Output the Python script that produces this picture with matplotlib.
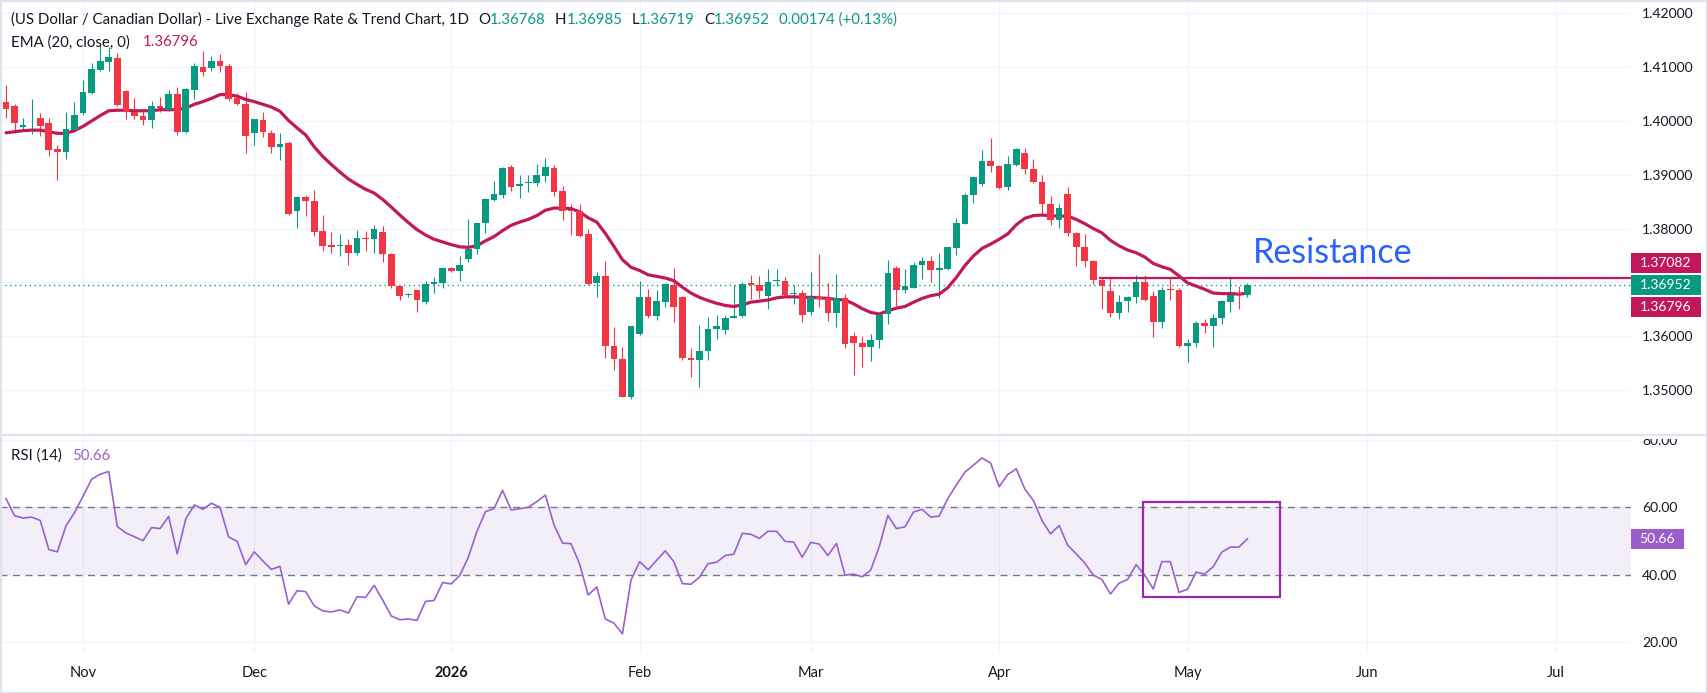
import numpy as np
import pandas as pd
import matplotlib
matplotlib.use("Agg")
import matplotlib.pyplot as plt
from matplotlib.patches import Rectangle
from matplotlib.lines import Line2D
from matplotlib.transforms import IdentityTransform

# USD/CAD daily candles, 21 Oct 2025 -> 12 May 2026
opens = [1.4036, 1.4027, 1.3988, 1.3996, 1.4006, 1.3997, 1.3947, 1.3942, 1.3984, 1.4014,
         1.4052, 1.4094, 1.4109, 1.4118, 1.4055, 1.4017, 1.4010, 1.4001, 1.4028, 1.4021,
         1.4051, 1.3979, 1.4058, 1.4101, 1.4098, 1.4112, 1.4103, 1.4042, 1.4032, 1.3977,
         1.4001, 1.3978, 1.3951, 1.3959, 1.3832, 1.3858, 1.3852, 1.3796, 1.3770, 1.3768,
         1.3770, 1.3754, 1.3783, 1.3780, 1.3794, 1.3753, 1.3693, 1.3676, 1.3685, 1.3663,
         1.3696, 1.3698, 1.3726, 1.3721, 1.3743, 1.3761, 1.3810, 1.3853, 1.3862, 1.3915,
         1.3880, 1.3884, 1.3884, 1.3897, 1.3912, 1.3869, 1.3834, 1.3832, 1.3789, 1.3698,
         1.3712, 1.3581, 1.3558, 1.3487, 1.3603, 1.3673, 1.3637, 1.3664, 1.3695, 1.3673,
         1.3560, 1.3555, 1.3572, 1.3613, 1.3611, 1.3634, 1.3637, 1.3699, 1.3695, 1.3674,
         1.3703, 1.3703, 1.3679, 1.3680, 1.3644, 1.3673, 1.3670, 1.3642, 1.3670, 1.3601,
         1.3588, 1.3579, 1.3592, 1.3641, 1.3727, 1.3686, 1.3690, 1.3732, 1.3739, 1.3723,
         1.3725, 1.3763, 1.3809, 1.3862, 1.3882, 1.3925, 1.3916, 1.3877, 1.3918, 1.3941,
         1.3910, 1.3887, 1.3846, 1.3815, 1.3865, 1.3792, 1.3766, 1.3740, 1.3705, 1.3683,
         1.3642, 1.3665, 1.3672, 1.3701, 1.3675, 1.3626, 1.3687, 1.3685, 1.3581, 1.3587,
         1.3624, 1.3618, 1.3633, 1.3663, 1.3680, 1.36768]
highs = [1.4066, 1.4032, 1.4006, 1.4040, 1.4014, 1.4006, 1.3956, 1.4016, 1.4036, 1.4077,
         1.4107, 1.4142, 1.4137, 1.4127, 1.4058, 1.4042, 1.4023, 1.4038, 1.4045, 1.4058,
         1.4064, 1.4061, 1.4108, 1.4131, 1.4120, 1.4125, 1.4106, 1.4052, 1.4054, 1.4003,
         1.4016, 1.3984, 1.3978, 1.3962, 1.3860, 1.3862, 1.3872, 1.3825, 1.3794, 1.3789,
         1.3781, 1.3798, 1.3796, 1.3806, 1.3805, 1.3754, 1.3694, 1.3680, 1.3686, 1.3702,
         1.3709, 1.3729, 1.3729, 1.3748, 1.3817, 1.3812, 1.3857, 1.3889, 1.3914, 1.3919,
         1.3899, 1.3899, 1.3920, 1.3931, 1.3919, 1.3880, 1.3845, 1.3845, 1.3800, 1.3720,
         1.3740, 1.3616, 1.3579, 1.3619, 1.3703, 1.3687, 1.3685, 1.3698, 1.3726, 1.3675,
         1.3577, 1.3620, 1.3636, 1.3639, 1.3640, 1.3695, 1.3700, 1.3714, 1.3711, 1.3725,
         1.3725, 1.3709, 1.3695, 1.3686, 1.3720, 1.3752, 1.3699, 1.3716, 1.3678, 1.3608,
         1.3601, 1.3603, 1.3641, 1.3742, 1.3730, 1.3724, 1.3738, 1.3747, 1.3748, 1.3755,
         1.3766, 1.3820, 1.3866, 1.3898, 1.3946, 1.3968, 1.3919, 1.3934, 1.3950, 1.3949,
         1.3930, 1.3900, 1.3861, 1.3845, 1.3878, 1.3793, 1.3789, 1.3741, 1.3709, 1.3709,
         1.3677, 1.3675, 1.3714, 1.3714, 1.3683, 1.3692, 1.3709, 1.3690, 1.3595, 1.3628,
         1.3631, 1.3641, 1.3667, 1.3709, 1.3693, 1.36985]
lows = [1.4006, 1.3977, 1.3981, 1.3976, 1.3972, 1.3934, 1.3890, 1.3930, 1.3979, 1.4011,
        1.4051, 1.4093, 1.4093, 1.4028, 1.4003, 1.4003, 1.3992, 1.3987, 1.4016, 1.4018,
        1.3974, 1.3978, 1.4040, 1.4083, 1.4093, 1.4091, 1.4037, 1.4029, 1.3940, 1.3956,
        1.3970, 1.3940, 1.3928, 1.3826, 1.3801, 1.3824, 1.3786, 1.3759, 1.3754, 1.3748,
        1.3732, 1.3750, 1.3758, 1.3755, 1.3737, 1.3689, 1.3667, 1.3672, 1.3644, 1.3659,
        1.3680, 1.3689, 1.3720, 1.3702, 1.3737, 1.3752, 1.3792, 1.3852, 1.3856, 1.3869,
        1.3856, 1.3867, 1.3879, 1.3886, 1.3860, 1.3815, 1.3788, 1.3784, 1.3695, 1.3672,
        1.3559, 1.3536, 1.3486, 1.3483, 1.3602, 1.3633, 1.3629, 1.3654, 1.3626, 1.3555,
        1.3523, 1.3505, 1.3556, 1.3595, 1.3603, 1.3633, 1.3635, 1.3669, 1.3670, 1.3650,
        1.3694, 1.3674, 1.3659, 1.3626, 1.3639, 1.3654, 1.3628, 1.3616, 1.3577, 1.3527,
        1.3542, 1.3554, 1.3577, 1.3622, 1.3655, 1.3680, 1.3689, 1.3706, 1.3700, 1.3670,
        1.3723, 1.3750, 1.3808, 1.3847, 1.3879, 1.3906, 1.3873, 1.3871, 1.3916, 1.3902,
        1.3885, 1.3825, 1.3806, 1.3801, 1.3787, 1.3731, 1.3728, 1.3697, 1.3650, 1.3635,
        1.3631, 1.3644, 1.3661, 1.3665, 1.3598, 1.3615, 1.3668, 1.3580, 1.3551, 1.3579,
        1.3605, 1.3579, 1.3622, 1.3644, 1.3650, 1.36719]
closes = [1.4022, 1.3996, 1.3993, 1.3997, 1.3990, 1.3946, 1.3943, 1.3986, 1.4012, 1.4053,
          1.4096, 1.4111, 1.4119, 1.4029, 1.4016, 1.4009, 1.4001, 1.4028, 1.4024, 1.4051,
          1.3979, 1.4060, 1.4103, 1.4091, 1.4112, 1.4102, 1.4040, 1.4031, 1.3972, 1.4003,
          1.3979, 1.3951, 1.3957, 1.3827, 1.3858, 1.3851, 1.3794, 1.3768, 1.3765, 1.3770,
          1.3754, 1.3783, 1.3780, 1.3800, 1.3752, 1.3693, 1.3674, 1.3678, 1.3668, 1.3697,
          1.3700, 1.3726, 1.3721, 1.3732, 1.3762, 1.3811, 1.3854, 1.3864, 1.3913, 1.3877,
          1.3882, 1.3886, 1.3899, 1.3915, 1.3868, 1.3832, 1.3833, 1.3787, 1.3696, 1.3712,
          1.3581, 1.3557, 1.3487, 1.3618, 1.3673, 1.3637, 1.3666, 1.3697, 1.3654, 1.3559,
          1.3555, 1.3572, 1.3613, 1.3618, 1.3634, 1.3638, 1.3697, 1.3695, 1.3683, 1.3701,
          1.3704, 1.3677, 1.3680, 1.3639, 1.3673, 1.3669, 1.3642, 1.3670, 1.3585, 1.3587,
          1.3579, 1.3593, 1.3640, 1.3718, 1.3685, 1.3693, 1.3733, 1.3739, 1.3723, 1.3727,
          1.3765, 1.3811, 1.3862, 1.3895, 1.3925, 1.3916, 1.3875, 1.3920, 1.3947, 1.3910,
          1.3886, 1.3845, 1.3815, 1.3838, 1.3791, 1.3765, 1.3739, 1.3704, 1.3693, 1.3642,
          1.3664, 1.3672, 1.3701, 1.3667, 1.3626, 1.3685, 1.3686, 1.3581, 1.3588, 1.3624,
          1.3618, 1.3634, 1.3666, 1.3677, 1.36778, 1.36952]

ema20 = [1.3978, 1.3980, 1.3982, 1.3983, 1.3983, 1.3980, 1.3977, 1.3977, 1.3982, 1.3990,
         1.4000, 1.4010, 1.4019, 1.4020, 1.4020, 1.4019, 1.4019, 1.4019, 1.4021, 1.4021,
         1.4021, 1.4024, 1.4031, 1.4036, 1.4042, 1.4049, 1.4049, 1.4046, 1.4040, 1.4036,
         1.4031, 1.4026, 1.4018, 1.4001, 1.3987, 1.3974, 1.3952, 1.3934, 1.3919, 1.3905,
         1.3892, 1.3882, 1.3873, 1.3866, 1.3854, 1.3840, 1.3825, 1.3811, 1.3798, 1.3788,
         1.3780, 1.3775, 1.3770, 1.3766, 1.3765, 1.3768, 1.3777, 1.3785, 1.3796, 1.3806,
         1.3812, 1.3817, 1.3824, 1.3834, 1.3838, 1.3838, 1.3837, 1.3831, 1.3820, 1.3812,
         1.3791, 1.3767, 1.3742, 1.3728, 1.3722, 1.3714, 1.3711, 1.3708, 1.3703, 1.3691,
         1.3680, 1.3672, 1.3666, 1.3661, 1.3657, 1.3655, 1.3658, 1.3663, 1.3665, 1.3667,
         1.3671, 1.3673, 1.3673, 1.3672, 1.3672, 1.3671, 1.3670, 1.3668, 1.3667, 1.3660,
         1.3651, 1.3644, 1.3641, 1.3647, 1.3652, 1.3655, 1.3663, 1.3670, 1.3675, 1.3678,
         1.3690, 1.3709, 1.3731, 1.3749, 1.3763, 1.3771, 1.3780, 1.3790, 1.3807, 1.3819,
         1.3824, 1.3825, 1.3824, 1.3823, 1.3823, 1.3817, 1.3809, 1.3800, 1.3792, 1.3778,
         1.3768, 1.3760, 1.3755, 1.3747, 1.3735, 1.3729, 1.3724, 1.3712, 1.3699, 1.3693,
         1.3687, 1.3680, 1.3679, 1.3679, 1.3678, 1.36796]

rsi14 = [62.6, 57.5, 56.8, 57.1, 56.1, 47.5, 46.8, 54.5, 58.4, 63.3,
         68.3, 69.8, 70.6, 54.3, 52.4, 51.3, 50.1, 54.0, 53.7, 57.3,
         46.2, 56.6, 60.7, 59.4, 61.2, 60.0, 51.2, 49.9, 43.0, 46.8,
         44.1, 41.6, 42.5, 31.3, 35.3, 35.0, 30.8, 29.3, 29.0, 29.6,
         28.7, 33.5, 33.3, 36.9, 32.5, 27.8, 26.7, 26.9, 26.5, 32.1,
         32.4, 37.7, 37.3, 39.8, 45.2, 52.8, 58.7, 59.6, 65.0, 59.2,
         59.6, 60.0, 61.7, 63.6, 54.8, 49.4, 49.2, 43.2, 34.0, 36.4,
         26.9, 25.7, 22.5, 38.4, 43.9, 41.5, 44.3, 47.1, 43.9, 37.4,
         37.2, 39.3, 43.3, 43.7, 45.7, 46.1, 52.3, 52.0, 50.8, 52.9,
         52.9, 49.9, 49.7, 45.2, 49.6, 49.1, 45.7, 49.3, 39.9, 40.2,
         39.4, 41.4, 48.4, 57.6, 53.7, 54.2, 58.6, 59.4, 57.1, 57.4,
         62.6, 66.6, 70.4, 72.5, 74.6, 73.1, 66.1, 69.7, 71.4, 65.4,
         62.0, 56.1, 52.1, 54.6, 48.8, 46.2, 43.5, 39.9, 38.6, 34.3,
         37.5, 38.6, 43.0, 39.9, 35.8, 43.9, 43.9, 34.8, 35.7, 40.8,
         40.2, 42.4, 46.7, 48.2, 48.2, 50.66]

resistance = 1.37082
price_ticks = [1.35, 1.36, 1.37, 1.38, 1.39, 1.40, 1.41, 1.42]
rsi_ticks = [20, 40, 60, 80]

UP = "#089981"
DOWN = "#F23645"
EMA_C = "#C2185B"
RSI_C = "#9C5FD0"
TXT = "#131722"
GRID = "#F0F3FA"

plt.rcParams["font.family"] = ["Lato", "DejaVu Sans"]

opens, highs, lows, closes = map(np.array, (opens, highs, lows, closes))
n = len(closes)
x = np.arange(n)
days = pd.bdate_range("2025-10-21", "2026-07-31")
month_idx = [i for i in range(1, len(days)) if days[i].month != days[i - 1].month]
month_lbl = ["2026" if days[i].month == 1 else days[i].strftime("%b") for i in month_idx]
xlim = (-0.7, 189.8)

fig = plt.figure(figsize=(17.07, 6.93), dpi=100)
ax = fig.add_axes([0, 0.37229, 0.95548, 0.62771])
ax2 = fig.add_axes([0, 0.05772, 0.95548, 0.31457])

for a in (ax, ax2):
    a.set_xlim(*xlim)
    for s in a.spines.values():
        s.set_visible(False)
    a.set_xticks(month_idx)
    a.grid(True, color=GRID, lw=1, zorder=0)
    a.set_axisbelow(True)
    a.yaxis.tick_right()

# ---- price pane
ax.set_ylim(1.3416, 1.4225)
ax.set_yticks(price_ticks)
ax.set_yticklabels(["" if abs(v - 1.37) < 1e-9 else f"{v:.5f}" for v in price_ticks])
ax.tick_params(axis="y", length=0, pad=8, labelsize=10, labelcolor=TXT)
ax.tick_params(axis="x", length=0, labelbottom=False)

up = closes >= opens
cols = np.where(up, UP, DOWN)
ax.vlines(x, lows, highs, colors=cols, lw=0.8, zorder=4)
body = np.maximum(np.abs(closes - opens), 0.00012)
mid = (opens + closes) / 2
ax.bar(x, body, bottom=mid - body / 2, width=0.78, color=cols, lw=0, zorder=5)
ax.plot(x, ema20, color=EMA_C, lw=2.3, zorder=4, solid_capstyle="round")
ax.hlines(resistance, 127.7, xlim[1], color=EMA_C, lw=1.6, zorder=6)
ax.axhline(closes[-1], color=UP, lw=1, ls=(0, (1, 2.5)), zorder=3)
ax.text(145.6, 1.3736, "Resistance", color="#2962FF", fontsize=24.5, va="baseline", ha="left", zorder=7)

# ---- RSI pane
ax2.set_ylim(16.83, 81.42)
ax2.set_yticks(rsi_ticks)
ax2.set_yticklabels([f"{v:.2f}" for v in rsi_ticks])
ax2.tick_params(axis="y", length=0, pad=8, labelsize=10, labelcolor=TXT)
ax2.set_xticklabels(month_lbl)
ax2.tick_params(axis="x", length=0, pad=9, labelsize=10.5, labelcolor=TXT)
for t in ax2.get_xticklabels():
    if t.get_text() == "2026":
        t.set_fontweight("bold")
ax2.axhspan(40, 60, color="#7E57C2", alpha=0.09, lw=0, zorder=1)
for lvl in (40, 60):
    ax2.axhline(lvl, color="#787B86", lw=1, ls=(0, (5, 4)), zorder=2)
ax2.plot(x, rsi14, color=RSI_C, lw=1.2, zorder=4)
ax2.add_patch(Rectangle((132.85, 33.4), 15.95, 28.1, fill=False, ec="#9C27B0", lw=1.6, zorder=5))

# ---- legends (top left)
def chain(parts, start, axis):
    prev = None
    for s, c, gap in parts:
        if prev is None:
            prev = axis.annotate(s, xy=start, xycoords="figure pixels", va="center", ha="left",
                                 color=c, fontsize=10.8, zorder=10)
        else:
            prev = axis.annotate(s, xy=(1, 0.5), xycoords=prev, xytext=(gap, 0),
                                 textcoords="offset pixels", va="center", ha="left",
                                 color=c, fontsize=10.8, zorder=10)

chg = closes[-1] - closes[-2]
chain([("(US Dollar / Canadian Dollar) - Live Exchange Rate & Trend Chart, 1D", TXT, 0),
       ("O", TXT, 9), (f"{opens[-1]:.5f}", UP, 0),
       ("H", TXT, 9), (f"{highs[-1]:.5f}", UP, 0),
       ("L", TXT, 9), (f"{lows[-1]:.5f}", UP, 0),
       ("C", TXT, 9), (f"{closes[-1]:.5f}", UP, 0),
       (f"{chg:.5f} (+{chg / closes[-2] * 100:.2f}%)", UP, 9)],
      (11, 693 - 19.6), ax)
chain([("EMA (20, close, 0)", TXT, 0), (f"{ema20[-1]:.5f}", EMA_C, 13)], (11, 693 - 42.5), ax)
chain([("RSI (14)", TXT, 0), (f"{rsi14[-1]:.2f}", RSI_C, 10)], (11, 693 - 456), ax2)

# ---- right-side value badges
fig.canvas.draw()
def badge(a, val, color, dy, width, fmt):
    yc = a.transData.transform((0, val))[1] + dy
    fig.add_artist(Rectangle((1631, yc - 10), width, 20, transform=IdentityTransform(),
                             fc=color, ec="none", zorder=8))
    fig.text((1631 + width / 2) / 1707, yc / 693, fmt.format(val), color="white",
             fontsize=10, ha="center", va="center", zorder=9)

badge(ax, resistance, EMA_C, 14.5, 70, "{:.5f}")
badge(ax, closes[-1], UP, 0, 70, "{:.5f}")
badge(ax, ema20[-1], EMA_C, -13.7, 70, "{:.5f}")
badge(ax2, rsi14[-1], "#9C5CCB", 0, 53, "{:.2f}")

# pane separator, cutting off the top of the "80.00" label
fig.add_artist(Rectangle((1631, 693 - 438.5), 76, 10, transform=IdentityTransform(),
                         fc="white", ec="none", zorder=6))
fig.add_artist(Line2D([0, 1], [1 - 435 / 693] * 2, transform=fig.transFigure,
                      color="#E0E3EB", lw=1.5, zorder=7))
fig.add_artist(Rectangle((0, 0), 1, 1, transform=fig.transFigure, fill=False,
                         ec="#E0E3EB", lw=2.5, zorder=10))

fig.savefig("out.png", dpi=100, facecolor="white")
